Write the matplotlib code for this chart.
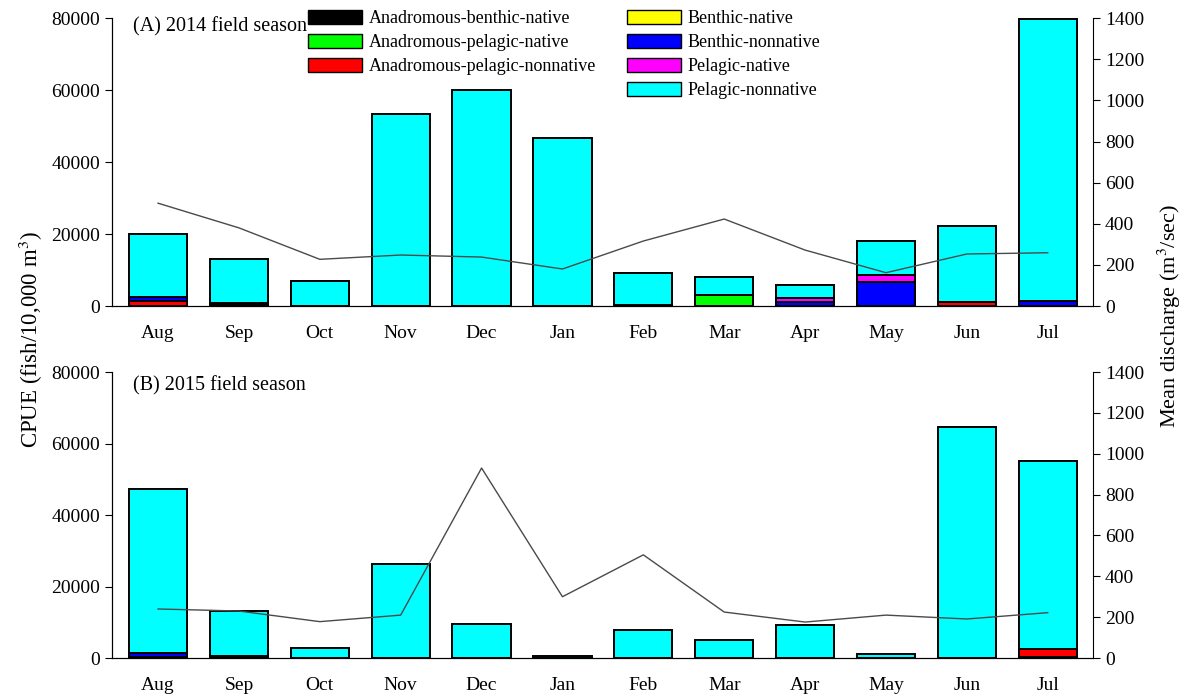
import numpy as np
import matplotlib
matplotlib.use('Agg')
import matplotlib.pyplot as plt
from matplotlib.patches import Patch

plt.rcParams['font.family'] = ['Liberation Serif', 'DejaVu Serif']
plt.rcParams['mathtext.fontset'] = 'stix'

months = ['Aug', 'Sep', 'Oct', 'Nov', 'Dec', 'Jan', 'Feb', 'Mar', 'Apr', 'May', 'Jun', 'Jul']

groups = ['Anadromous-benthic-native', 'Anadromous-pelagic-native', 'Anadromous-pelagic-nonnative',
          'Benthic-native', 'Benthic-nonnative', 'Pelagic-native', 'Pelagic-nonnative']
colors = ['#000000', '#00ff00', '#ff0000', '#ffff00', '#0000ff', '#ff00ff', '#00ffff']

# 2014 field season CPUE by group
a_abn = [0, 300, 0, 0, 0, 0, 300, 0, 0, 0, 0, 0]
a_apn = [0, 0, 0, 0, 0, 0, 0, 3000, 0, 0, 0, 0]
a_apnn = [1500, 500, 0, 0, 0, 0, 0, 0, 0, 0, 1100, 0]
a_bn = [0] * 12
a_bnn = [1000, 0, 0, 0, 0, 0, 0, 0, 1100, 6700, 0, 1500]
a_pn = [0, 0, 0, 0, 0, 0, 0, 0, 1000, 1800, 0, 0]
a_pnn = [17500, 12200, 7000, 53300, 60000, 46700, 8900, 5000, 3700, 9500, 21100, 78200]
a_flow = [500, 380, 227, 248, 238, 180, 316, 423, 272, 162, 253, 259]

# 2015 field season CPUE by group
b_abn = [0, 500, 0, 0, 0, 0, 0, 0, 0, 0, 0, 300]
b_apn = [0] * 12
b_apnn = [400, 0, 0, 0, 0, 0, 0, 0, 0, 0, 0, 2200]
b_bn = [0] * 12
b_bnn = [1000, 0, 0, 0, 0, 0, 0, 0, 0, 0, 0, 0]
b_pn = [0] * 12
b_pnn = [45800, 12600, 2800, 26300, 9500, 600, 7800, 5000, 9200, 1100, 64500, 52500]
b_flow = [240, 230, 178, 210, 930, 300, 505, 225, 176, 210, 191, 222]

season_a = [a_abn, a_apn, a_apnn, a_bn, a_bnn, a_pn, a_pnn]
season_b = [b_abn, b_apn, b_apnn, b_bn, b_bnn, b_pn, b_pnn]

fig = plt.figure(figsize=(11.86, 6.98), dpi=100)
axA = fig.add_axes([0.0944, 0.5616, 0.8272, 0.4124])
axB = fig.add_axes([0.0944, 0.0573, 0.8272, 0.4097])

x = np.arange(len(months))


def panel(ax, stack, flow, title, ty):
    bottom = np.zeros(len(months))
    for vals, col in zip(stack, colors):
        vals = np.array(vals, dtype=float)
        ax.bar(x, vals, 0.72, bottom=bottom, color=col, edgecolor='black', linewidth=1.4, zorder=2)
        bottom += vals
    ax.set_xlim(-0.57, 11.56)
    ax.set_ylim(0, 80000)
    ax.set_yticks(np.arange(0, 80001, 20000))
    ax.set_xticks(x)
    ax.set_xticklabels(months)
    ax.tick_params(axis='x', length=0, pad=14, labelsize=14)
    ax.tick_params(axis='y', direction='out', length=5, labelsize=14)
    ax.spines['top'].set_visible(False)
    ax.spines['right'].set_visible(False)
    ax.text(0.021, ty, title, transform=ax.transAxes, fontsize=14.5, va='center', ha='left')
    ax2 = ax.twinx()
    ax2.plot(x, flow, color='#4a4a4a', linewidth=1.0, zorder=3)
    ax2.set_ylim(0, 1400)
    ax2.set_yticks(np.arange(0, 1401, 200))
    ax2.tick_params(axis='y', direction='out', length=5, labelsize=14)
    ax2.spines['top'].set_visible(False)
    return ax2


panel(axA, season_a, a_flow, '(A) 2014 field season', 0.969)
panel(axB, season_b, b_flow, '(B) 2015 field season', 0.951)

h = [Patch(facecolor=c, edgecolor='black', linewidth=1.0) for c in colors]
legkw = dict(loc='upper left', frameon=False, fontsize=13, handlelength=3.0, handleheight=0.8,
             labelspacing=0.38, handletextpad=0.35, borderaxespad=0, borderpad=0)
leg1 = axA.legend(h[:3], groups[:3], bbox_to_anchor=(0.2, 1.028), **legkw)
axA.add_artist(leg1)
axA.legend(h[3:], groups[3:], bbox_to_anchor=(0.525, 1.028), **legkw)

fig.text(0.026, 0.513, 'CPUE (fish/10,000 m$^3$)', rotation=90, fontsize=16.5, ha='center', va='center')
fig.text(0.986, 0.547, 'Mean discharge (m$^3$/sec)', rotation=90, fontsize=16, ha='center', va='center')

fig.savefig('out.png', dpi=100)
